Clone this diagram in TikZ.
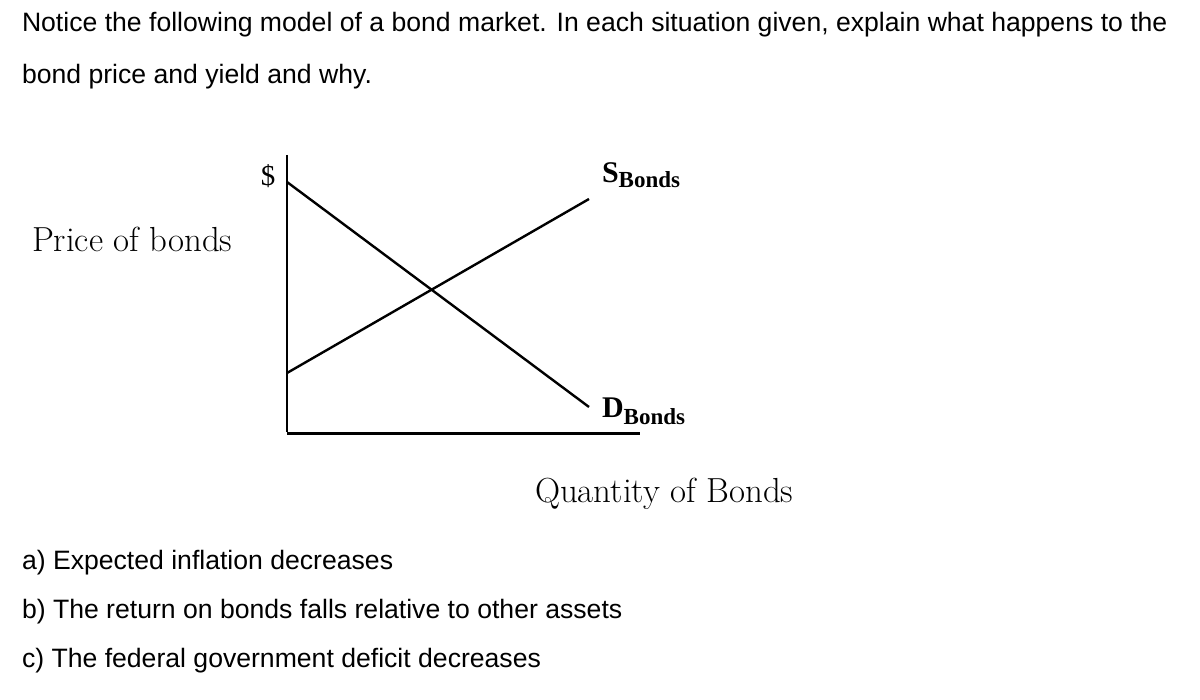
\documentclass[tikz,border=0pt]{standalone}
\usepackage{fontspec}
\newfontfamily\arialf{Liberation Sans}
\newfontfamily\timesf{Liberation Serif}
\tikzset{
  txt/.style={inner sep=0pt, outer sep=0pt, anchor=base west},
  qtext/.style={txt, font=\arialf\fontsize{26.6}{30}\selectfont},
  axlabel/.style={txt, font=\fontsize{34.8}{40}\selectfont},
  curve/.style={line width=2.4pt, black},
  axis/.style={line width=3pt, black},
}
\begin{document}
\begin{tikzpicture}[x=1pt,y=-1pt]
\useasboundingbox[fill=white] (0,0) rectangle (1200,700);
% header text
\node[qtext] (h1) at (22,32) {Notice the following model of a bond market. In each situation given, explain what happens to the};
\node[qtext] (h2) at (22,84) {bond price and yield and why.};
% axes
\coordinate (top) at (287,155);
\coordinate (origin) at (287,434);
\coordinate (xend) at (640,434);
\draw[line width=2.6pt] (top) -- (287,432);
\draw[axis] (origin) -- (xend);
% curves
\coordinate (d1) at (287,182);
\coordinate (d2) at (589,407);
\coordinate (s1) at (287,373);
\coordinate (s2) at (589,199);
\draw[curve] (d1) -- (d2);
\draw[curve] (s1) -- (s2);
% labels
\node[inner sep=0pt, font=\timesf\fontsize{29}{32}\selectfont] (dollar) at (268,176) {\$};
\node[txt] (slab) at (602,183) {\timesf\bfseries\fontsize{30}{34}\selectfont S\raisebox{-5pt}{\fontsize{23}{26}\selectfont Bonds}};
\node[txt] (dlab) at (602,418) {\timesf\bfseries\fontsize{30}{34}\selectfont D\raisebox{-7pt}{\fontsize{23}{26}\selectfont Bonds}};
\node[axlabel] (ylab) at (32,252) {Price of bonds};
\node[axlabel] (xlab) at (535,502) {Quantity of Bonds};
% questions
\node[qtext] (qa) at (22,569) {a) Expected inflation decreases};
\node[qtext] (qb) at (22,618) {b) The return on bonds falls relative to other assets};
\node[qtext] (qc) at (22,667) {c) The federal government deficit decreases};
\end{tikzpicture}
\end{document}
